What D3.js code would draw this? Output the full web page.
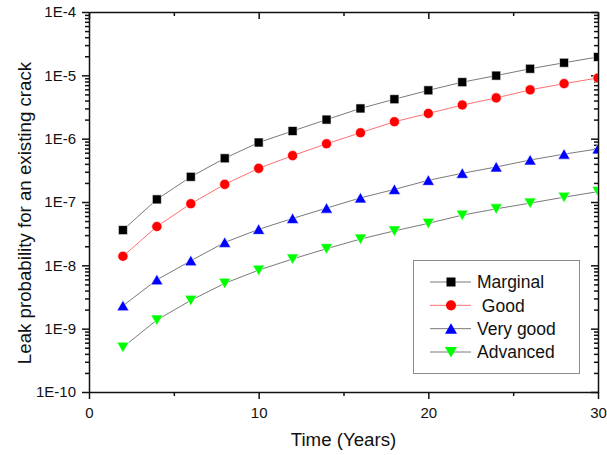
<!DOCTYPE html>
<html lang="en">
<head>
    <meta charset="UTF-8">
    <title>Leak probability</title>
    <script src="https://d3js.org/d3.v7.min.js"></script>
    <style>
        body { margin: 0; background: #fff; }
        svg { display: block; font-family: Arial, "Liberation Sans", sans-serif; }
        .axis path, .axis line { stroke: #111; stroke-width: 1.5px; }
        .axis text { font-size: 15px; fill: #111; font-family: Arial, "Liberation Sans", sans-serif; }
        .title { font-size: 18.7px; fill: #111; }
        .legend text { font-size: 17.5px; fill: #111; }
    </style>
</head>
<body>
    <svg width="607" height="455"></svg>
    <script>
        // data
        const years = [2, 4, 6, 8, 10, 12, 14, 16, 18, 20, 22, 24, 26, 28, 30];
        const marginal = [3.6e-8, 1.1e-7, 2.5e-7, 4.9e-7, 8.7e-7, 1.32e-6, 2.0e-6, 3.0e-6, 4.2e-6, 5.8e-6, 7.8e-6, 9.9e-6, 1.27e-5, 1.58e-5, 1.95e-5];
        const good = [1.39e-8, 4.1e-8, 9.4e-8, 1.9e-7, 3.4e-7, 5.4e-7, 8.3e-7, 1.24e-6, 1.85e-6, 2.5e-6, 3.4e-6, 4.4e-6, 5.9e-6, 7.4e-6, 9.1e-6];
        const veryGood = [2.3e-9, 5.9e-9, 1.18e-8, 2.3e-8, 3.7e-8, 5.5e-8, 8.0e-8, 1.16e-7, 1.58e-7, 2.2e-7, 2.84e-7, 3.57e-7, 4.6e-7, 5.7e-7, 6.9e-7];
        const advanced = [5.1e-10, 1.37e-9, 2.8e-9, 5.2e-9, 8.4e-9, 1.26e-8, 1.83e-8, 2.6e-8, 3.5e-8, 4.6e-8, 6.2e-8, 7.8e-8, 9.6e-8, 1.19e-7, 1.46e-7];

        const seriesNames = ["Marginal", " Good", "Very good", "Advanced"];
        const xMajor = [0, 10, 20, 30];
        const xMinor = [5, 15, 25];
        const yMajor = [1e-10, 1e-9, 1e-8, 1e-7, 1e-6, 1e-5, 1e-4];

        const series = [
            { name: seriesNames[0], values: marginal, shape: "square", fill: "#000000", line: "#7a7a7a" },
            { name: seriesNames[1], values: good, shape: "circle", fill: "#ff0000", line: "#ff7070" },
            { name: seriesNames[2], values: veryGood, shape: "up", fill: "#0000ff", line: "#7a7a7a" },
            { name: seriesNames[3], values: advanced, shape: "down", fill: "#00ff00", line: "#7a7a7a" }
        ];

        const svg = d3.select("svg");
        const plotL = 89, plotR = 598, plotT = 12, plotB = 392;

        const x = d3.scaleLinear().domain([0, 30]).range([plotL, plotR]);
        const y = d3.scaleLog().domain([1e-10, 1e-4]).range([plotB, plotT]);

        // minor log ticks 2..9 per decade
        const yMinor = [];
        for (let e = -10; e < -4; e++) {
            for (let m = 2; m <= 9; m++) yMinor.push(m * Math.pow(10, e));
        }
        const expFmt = d => "1E" + Math.round(Math.log10(d));

        // bottom axis
        svg.append("g").attr("class", "axis")
            .attr("transform", `translate(0,${plotB})`)
            .call(d3.axisBottom(x).tickValues(xMajor).tickSize(7).tickPadding(8).tickSizeOuter(0));
        svg.append("g").attr("class", "axis")
            .attr("transform", `translate(0,${plotB})`)
            .call(d3.axisBottom(x).tickValues(xMinor).tickSize(4).tickFormat("").tickSizeOuter(0))
            .select(".domain").remove();

        // top axis, ticks inward
        svg.append("g").attr("class", "axis")
            .attr("transform", `translate(0,${plotT})`)
            .call(d3.axisBottom(x).tickValues(xMajor).tickSize(7).tickFormat("").tickSizeOuter(0));
        svg.append("g").attr("class", "axis")
            .attr("transform", `translate(0,${plotT})`)
            .call(d3.axisBottom(x).tickValues(xMinor).tickSize(4).tickFormat("").tickSizeOuter(0))
            .select(".domain").remove();

        // left axis
        svg.append("g").attr("class", "axis")
            .attr("transform", `translate(${plotL},0)`)
            .call(d3.axisLeft(y).tickValues(yMajor).tickFormat(expFmt).tickSize(7).tickPadding(6).tickSizeOuter(0));
        svg.append("g").attr("class", "axis")
            .attr("transform", `translate(${plotL},0)`)
            .call(d3.axisLeft(y).tickValues(yMinor).tickFormat("").tickSize(4).tickSizeOuter(0))
            .select(".domain").remove();

        // right axis, ticks inward
        svg.append("g").attr("class", "axis")
            .attr("transform", `translate(${plotR},0)`)
            .call(d3.axisLeft(y).tickValues(yMajor).tickFormat("").tickSize(7).tickSizeOuter(0));
        svg.append("g").attr("class", "axis")
            .attr("transform", `translate(${plotR},0)`)
            .call(d3.axisLeft(y).tickValues(yMinor).tickFormat("").tickSize(4).tickSizeOuter(0))
            .select(".domain").remove();

        // titles
        svg.append("text").attr("class", "title")
            .attr("x", (plotL + plotR) / 2).attr("y", 446)
            .attr("text-anchor", "middle")
            .text("Time (Years)");
        svg.append("text").attr("class", "title")
            .attr("transform", "translate(31,213) rotate(-90)")
            .attr("text-anchor", "middle")
            .text("Leak probability for an existing crack");

        svg.append("clipPath").attr("id", "plotclip")
            .append("rect")
            .attr("x", plotL).attr("y", plotT)
            .attr("width", plotR - plotL).attr("height", plotB - plotT);

        function markerPath(shape) {
            if (shape === "square") return "M-4.5,-4.5H4.5V4.5H-4.5Z";
            if (shape === "circle") return d3.symbol(d3.symbolCircle, 80)();
            if (shape === "up") return "M0,-5.5L6,5L-6,5Z";
            return "M0,5.5L6,-5L-6,-5Z";
        }

        const plot = svg.append("g").attr("clip-path", "url(#plotclip)");
        const line = d3.line().x(d => x(d[0])).y(d => y(d[1]));

        series.forEach(s => {
            const pts = years.map((yr, i) => [yr, s.values[i]]);
            plot.append("path")
                .datum(pts)
                .attr("fill", "none")
                .attr("stroke", s.line)
                .attr("stroke-width", 1)
                .attr("d", line);
            plot.selectAll(null)
                .data(pts)
                .join("path")
                .attr("transform", d => `translate(${x(d[0])},${y(d[1])})`)
                .attr("d", markerPath(s.shape))
                .attr("fill", s.fill)
                .attr("stroke", "#fff")
                .attr("stroke-width", 0.6);
        });

        // legend
        const legend = svg.append("g").attr("class", "legend");
        legend.append("rect")
            .attr("x", 413.5).attr("y", 260.5)
            .attr("width", 166).attr("height", 113)
            .attr("fill", "#fff")
            .attr("stroke", "#8a8a8a")
            .attr("stroke-width", 1);
        const rowY = d3.scalePoint().domain(seriesNames).range([282, 352]);
        series.forEach(s => {
            const g = legend.append("g").attr("transform", `translate(0,${rowY(s.name)})`);
            g.append("line")
                .attr("x1", 430).attr("x2", 471)
                .attr("stroke", s.line).attr("stroke-width", 1);
            g.append("path")
                .attr("transform", "translate(451,0)")
                .attr("d", markerPath(s.shape))
                .attr("fill", s.fill);
            g.append("text")
                .attr("x", 477).attr("y", 0).attr("dy", "0.36em")
                .attr("xml:space", "preserve")
                .style("white-space", "pre")
                .text(s.name);
        });
    </script>
</body>
</html>
